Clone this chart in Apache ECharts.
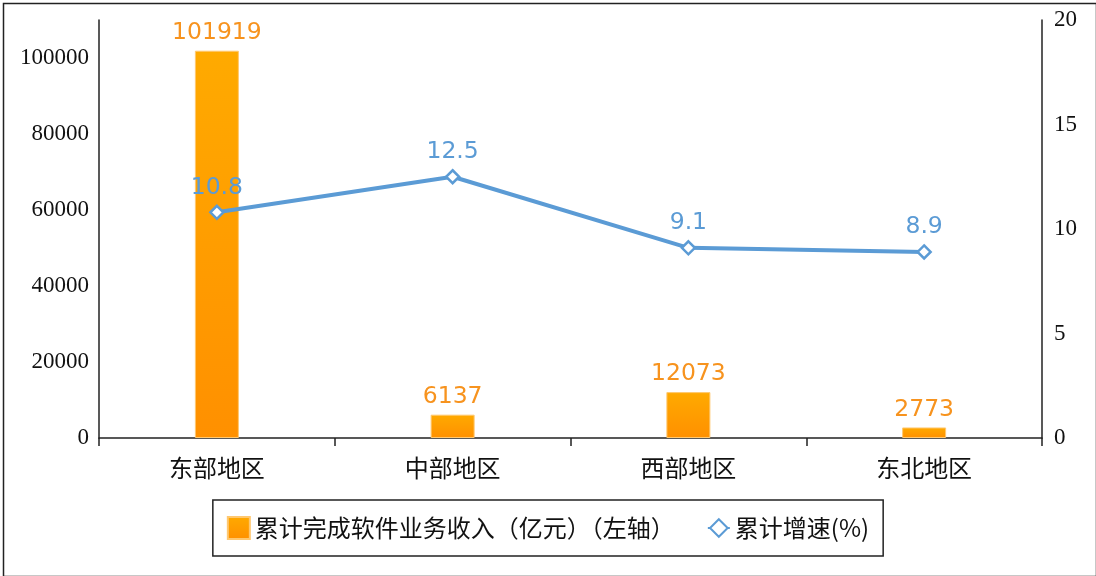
<!DOCTYPE html>
<html><head><meta charset="utf-8">
<script src="https://cdn.jsdelivr.net/npm/echarts@6/dist/echarts.min.js"></script>
<style>html,body{margin:0;padding:0;background:#fff}#c{width:1096px;height:576px}</style>
</head><body><div id="c"></div>
<script>
const categories = ['东部地区', '中部地区', '西部地区', '东北地区'];
const revenue = [101919, 6137, 12073, 2773];
const growth = [10.8, 12.5, 9.1, 8.9];
const barName = '累计完成软件业务收入（亿元）（左轴）';
const lineName = '累计增速(%)';

const chart = echarts.init(document.getElementById('c'));
chart.setOption({
  animation: false,
  backgroundColor: '#fff',
  graphic: [{
    type: 'rect', left: 1, top: 1,
    shape: { width: 1093, height: 573 },
    style: { fill: 'none', stroke: '#222', lineWidth: 1.5 }, silent: true
  }],
  grid: { left: 99, right: 54, top: 20, bottom: 138 },
  legend: {
    left: 'center', top: 500,
    padding: [16, 14],
    borderColor: '#222', borderWidth: 1.5,
    itemWidth: 22, itemHeight: 22, itemGap: 32,
    textStyle: { fontFamily: 'Noto Sans CJK SC', fontSize: 24, color: '#111' },
    data: [{ name: barName, icon: 'rect' }, { name: lineName }]
  },
  xAxis: {
    type: 'category', data: categories,
    axisLine: { lineStyle: { color: '#222', width: 1.5 } },
    axisTick: { show: true, length: 8, lineStyle: { color: '#222', width: 1.5 } },
    axisLabel: { margin: 18, fontFamily: 'Noto Sans CJK SC', fontSize: 24, color: '#111' }
  },
  yAxis: [{
    type: 'value', min: 0, max: 110000, interval: 20000,
    axisLine: { show: true, lineStyle: { color: '#222', width: 1.5 } },
    axisTick: { show: false }, splitLine: { show: false },
    axisLabel: { showMaxLabel: false, margin: 10, fontFamily: 'Liberation Serif', fontSize: 23, color: '#111',
      formatter: v => String(v) }
  }, {
    type: 'value', min: 0, max: 20, interval: 5,
    axisLine: { show: true, lineStyle: { color: '#222', width: 1.5 } },
    axisTick: { show: false }, splitLine: { show: false },
    axisLabel: { margin: 12, fontFamily: 'Liberation Serif', fontSize: 23, color: '#111' }
  }],
  series: [{
    name: barName, type: 'bar', data: revenue, barWidth: 44,
    itemStyle: {
      color: new echarts.graphic.LinearGradient(0, 0, 0, 1, [
        { offset: 0, color: '#FFAA00' }, { offset: 1, color: '#FF9000' }]),
      borderColor: '#FFC870', borderWidth: 1
    },
    label: { show: true, position: 'top', distance: 6, color: '#F7931E',
      fontFamily: 'DejaVu Sans', fontSize: 23.5 }
  }, {
    name: lineName, type: 'line', yAxisIndex: 1, data: growth,
    symbol: 'diamond', symbolSize: 13,
    lineStyle: { color: '#5B9BD5', width: 4 },
    itemStyle: { color: '#fff', borderColor: '#5B9BD5', borderWidth: 2.5 },
    label: { show: true, position: 'top', distance: 5, color: '#5B9BD5',
      fontFamily: 'DejaVu Sans', fontSize: 23.5 }
  }]
});
</script></body></html>
